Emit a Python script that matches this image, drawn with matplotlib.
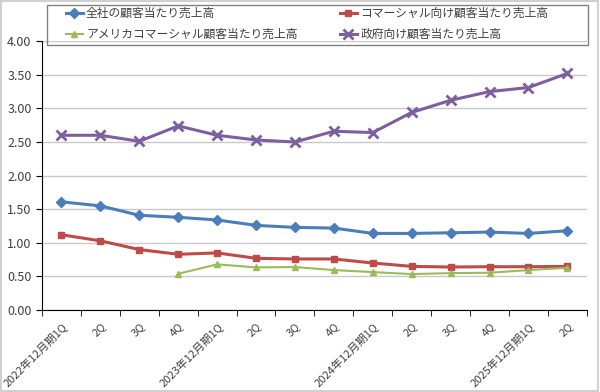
import matplotlib
matplotlib.use("Agg")
import matplotlib.pyplot as plt
import numpy as np

plt.rcParams["font.family"] = ["Noto Sans CJK JP", "DejaVu Sans"]

quarters = ["2022年12月期1Q", "2Q", "3Q", "4Q",
            "2023年12月期1Q", "2Q", "3Q", "4Q",
            "2024年12月期1Q", "2Q", "3Q", "4Q",
            "2025年12月期1Q", "2Q"]

total = [1.61, 1.55, 1.41, 1.38, 1.34, 1.26, 1.23, 1.22, 1.14, 1.14, 1.15, 1.16, 1.14, 1.18]
commercial = [1.12, 1.03, 0.90, 0.83, 0.85, 0.77, 0.76, 0.76, 0.70, 0.65, 0.64, 0.645, 0.645, 0.65]
us_commercial = [None, None, None, 0.54, 0.68, 0.635, 0.64, 0.595, 0.565, 0.535, 0.55, 0.555, 0.595, 0.63]
government = [2.60, 2.60, 2.51, 2.74, 2.60, 2.53, 2.50, 2.66, 2.64, 2.94, 3.12, 3.25, 3.31, 3.52]

labels = ["全社の顧客当たり売上高", "コマーシャル向け顧客当たり売上高",
          "アメリカコマーシャル顧客当たり売上高", "政府向け顧客当たり売上高"]

C_BLUE = "#4A7EBB"
C_RED = "#BE4B48"
C_GREEN = "#9BBB59"
C_PURPLE = "#7D5FA0"
TXT = "#404040"

fig = plt.figure(figsize=(6, 3.92), dpi=100)
ax = fig.add_axes([0.07, 0.209, 0.908, 0.686])
x = np.arange(len(quarters))

us = np.array([np.nan if v is None else v for v in us_commercial], dtype=float)

l1, = ax.plot(x, total, color=C_BLUE, lw=2.2, marker="D", ms=5)
l2, = ax.plot(x, commercial, color=C_RED, lw=2.2, marker="s", ms=5)
l3, = ax.plot(x, us, color=C_GREEN, lw=1.5, marker="^", ms=5)
l4, = ax.plot(x, government, color=C_PURPLE, lw=2.2, marker="x", ms=7, mew=2)

ax.set_xlim(-0.5, len(quarters) - 0.5)
ax.set_ylim(0, 4.0)
ax.set_yticks(np.arange(0, 4.01, 0.5))
ax.set_yticklabels([f"{v:.2f}" for v in np.arange(0, 4.01, 0.5)], fontsize=9, color=TXT)
ax.yaxis.grid(True, color="#C8C8C8", lw=1)
ax.set_axisbelow(True)

ax.set_xticks(x)
ax.set_xticklabels(quarters, rotation=45, ha="right", rotation_mode="anchor",
                   fontsize=8, color=TXT)
ax.tick_params(axis="x", length=0, pad=8)
ax.set_xticks(np.arange(-0.5, len(quarters), 1), minor=True)
ax.tick_params(axis="x", which="minor", length=4, direction="out", color="black")
ax.tick_params(axis="y", length=4, color="black")

for s in ("top", "right"):
    ax.spines[s].set_visible(False)
ax.spines["left"].set_color("black")
ax.spines["bottom"].set_color("black")

# 凡例: 枠は別に描く
leg = fig.legend([l1, l3, l2, l4], [labels[0], labels[2], labels[1], labels[3]],
                 ncol=2, loc="upper left", bbox_to_anchor=(66 / 600, 1 - 7 / 392),
                 fontsize=8.5, frameon=False, handlelength=1.4, handletextpad=0.3,
                 borderpad=0, borderaxespad=0, labelspacing=0.7, columnspacing=3.6)
for t in leg.get_texts():
    t.set_color(TXT)

fig.patches.append(plt.Rectangle((47 / 600, 1 - 45 / 392), 541 / 600, 40 / 392,
                                 transform=fig.transFigure, fill=False,
                                 edgecolor="#808080", lw=1))
fig.patches.append(plt.Rectangle((0.002, 0.003), 0.995, 0.994, transform=fig.transFigure,
                                 fill=False, edgecolor="#D0D0D0", lw=1.5))

fig.savefig("out.png", facecolor="white")
